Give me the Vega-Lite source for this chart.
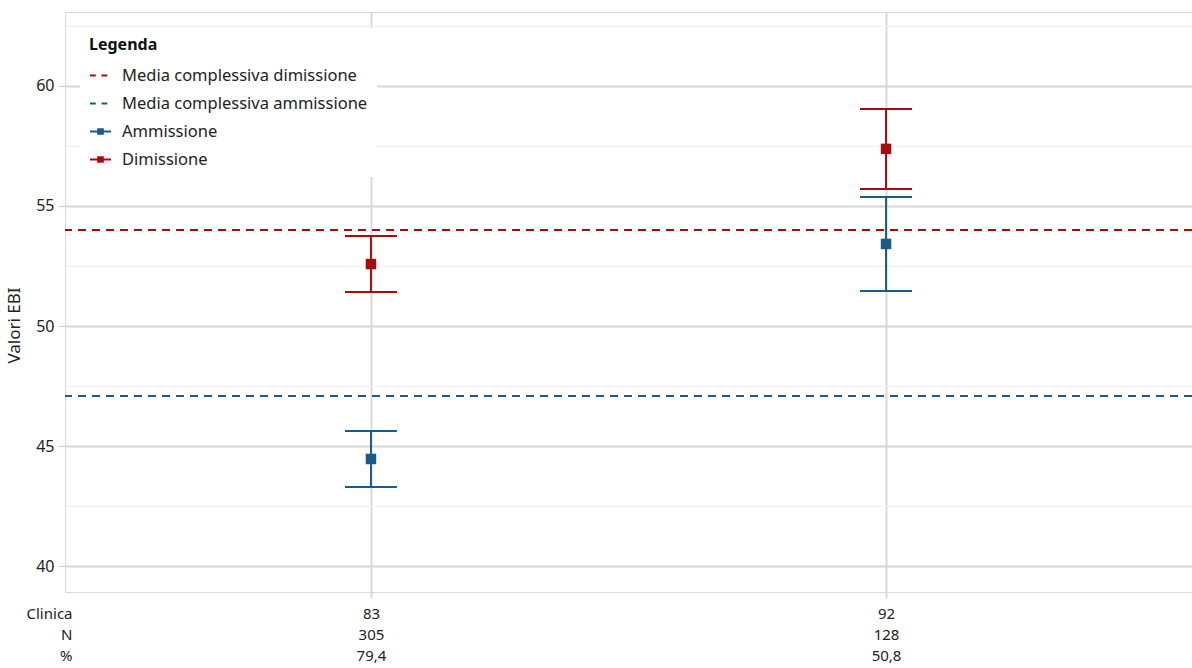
{
  "$schema": "https://vega.github.io/schema/vega-lite/v6.json",
  "width": 1127,
  "height": 580,
  "autosize": {"type": "none"},
  "padding": {"left": 65, "top": 12, "right": 0, "bottom": 76},
  "background": "white",
  "config": {"font": "Noto Sans", "view": {"stroke": "#d9d9d9", "strokeWidth": 1}},
  "datasets": {
    "errori": [
      {"gruppo": "83|305|79,4", "serie": "Ammissione", "media": 44.46, "inf": 43.29, "sup": 45.63},
      {"gruppo": "83|305|79,4", "serie": "Dimissione", "media": 52.58, "inf": 51.42, "sup": 53.75},
      {"gruppo": "92|128|50,8", "serie": "Ammissione", "media": 53.42, "inf": 51.46, "sup": 55.38},
      {"gruppo": "92|128|50,8", "serie": "Dimissione", "media": 57.38, "inf": 55.71, "sup": 59.04}
    ],
    "medie": [
      {"serie": "Media complessiva dimissione", "valore": 54.0},
      {"serie": "Media complessiva ammissione", "valore": 47.08}
    ]
  },
  "layer": [
    {
      "data": {"name": "medie"},
      "mark": {"type": "rule", "strokeWidth": 2, "strokeDash": [8, 6]},
      "encoding": {
        "y": {
          "field": "valore", "type": "quantitative",
          "scale": {"domain": [38.917, 63.083], "nice": false, "zero": false},
          "axis": {
            "title": "Valori EBI",
            "values": [40, 42.5, 45, 47.5, 50, 52.5, 55, 57.5, 60, 62.5],
            "labelExpr": "datum.value % 5 === 0 ? datum.label : ''",
            "grid": true,
            "gridColor": {"condition": {"test": "datum.value % 5 === 0", "value": "#d6d6d6"}, "value": "#efefef"},
            "gridWidth": {"condition": {"test": "datum.value % 5 === 0", "value": 2}, "value": 1},
            "tickOpacity": {"condition": {"test": "datum.value % 5 === 0", "value": 1}, "value": 0},
            "tickColor": "#c8c8c8", "tickSize": 7, "tickWidth": 1,
            "domain": false,
            "labelFontSize": 16, "labelColor": "#222", "labelPadding": 4, "labelOverlap": false,
            "titleFontSize": 17, "titleFontWeight": "normal", "titleColor": "#222",
            "titleX": -42, "titleY": 313
          }
        },
        "color": {
          "field": "serie", "type": "nominal",
          "scale": {
            "domain": ["Media complessiva dimissione", "Media complessiva ammissione", "Ammissione", "Dimissione"],
            "range": ["#a50d0d", "#1b5a84", "#1b5a84", "#a50d0d"]
          },
          "legend": {
            "title": "Legenda",
            "orient": "none", "legendX": 15, "legendY": 16,
            "padding": 9, "fillColor": "white",
            "titleFontSize": 16, "titleFontWeight": "bold", "titleColor": "#111", "titlePadding": 11,
            "labelFontSize": 16.5, "labelColor": "#222", "labelOffset": 10, "labelLimit": 400,
            "rowPadding": 8, "symbolSize": 441,
            "encode": {
              "symbols": {
                "update": {
                  "shape": {"signal": "datum.index < 2 ? 'M-1,0H-0.45M0.1,0H0.65' : 'M-1,0H1M-0.22,-0.22H0.22V0.22H-0.22Z'"},
                  "fill": {"scale": "color", "field": "value"},
                  "stroke": {"scale": "color", "field": "value"},
                  "strokeWidth": {"value": 2},
                  "fillOpacity": {"value": 1},
                  "strokeOpacity": {"value": 1},
                  "opacity": {"value": 1}
                }
              }
            }
          }
        }
      }
    },
    {
      "data": {"name": "errori"},
      "mark": {"type": "rule", "strokeWidth": 2},
      "encoding": {
        "x": {
          "field": "gruppo", "type": "nominal",
          "scale": {"type": "point", "padding": 0.594},
          "axis": {
            "title": ["Clinica", "N", "%"],
            "labelExpr": "split(datum.value, '|')",
            "grid": true, "gridColor": "#d9d9d9", "gridWidth": 2,
            "tickColor": "#d9d9d9", "tickWidth": 2, "tickSize": 6,
            "domain": false, "labelAngle": 0,
            "labelFontSize": 15, "labelLineHeight": 21, "labelPadding": 8, "labelBaseline": "top",
            "labelColor": "#222", "labelOverlap": false,
            "titleFontSize": 15, "titleFontWeight": "normal", "titleColor": "#222",
            "titleAlign": "right", "titleBaseline": "top", "titleLineHeight": 21,
            "titleX": 7, "titleY": 14
          }
        },
        "y": {"field": "inf", "type": "quantitative"},
        "y2": {"field": "sup"},
        "color": {"field": "serie", "type": "nominal"}
      }
    },
    {
      "data": {"name": "errori"},
      "mark": {"type": "tick", "size": 52, "thickness": 2, "opacity": 1},
      "encoding": {
        "x": {"field": "gruppo", "type": "nominal"},
        "y": {"field": "inf", "type": "quantitative"},
        "color": {"field": "serie", "type": "nominal"}
      }
    },
    {
      "data": {"name": "errori"},
      "mark": {"type": "tick", "size": 52, "thickness": 2, "opacity": 1},
      "encoding": {
        "x": {"field": "gruppo", "type": "nominal"},
        "y": {"field": "sup", "type": "quantitative"},
        "color": {"field": "serie", "type": "nominal"}
      }
    },
    {
      "data": {"name": "errori"},
      "mark": {"type": "point", "shape": "square", "size": 110, "filled": true, "opacity": 1},
      "encoding": {
        "x": {"field": "gruppo", "type": "nominal"},
        "y": {"field": "media", "type": "quantitative"},
        "color": {"field": "serie", "type": "nominal"}
      }
    }
  ]
}
